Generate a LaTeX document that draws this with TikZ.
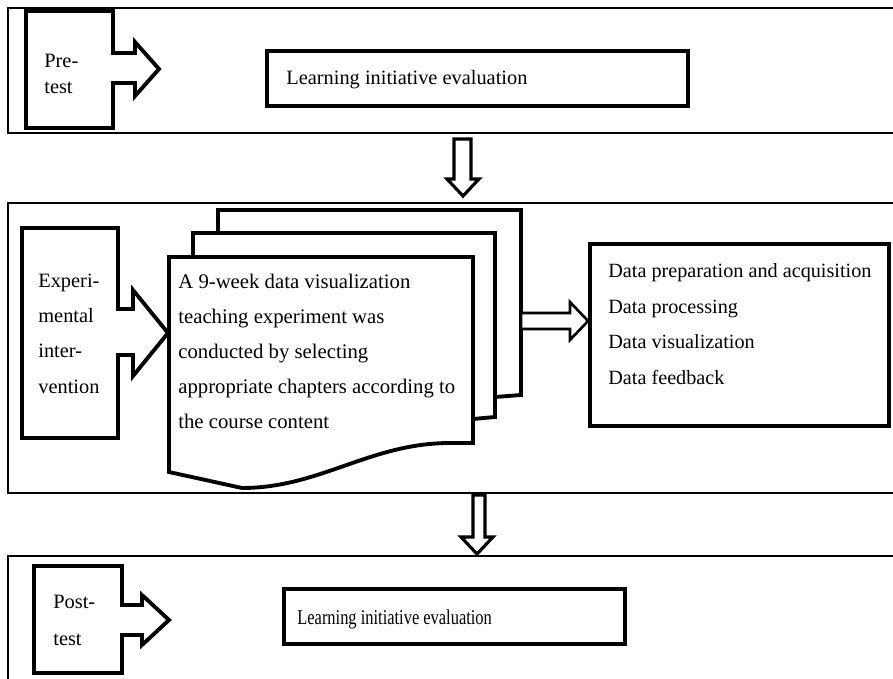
\documentclass[tikz,border=0pt]{standalone}
\usepackage{fontspec}
\setmainfont{Liberation Serif}
\usetikzlibrary{positioning}
\tikzset{
  panel/.style={draw, line width=1pt},
  callout/.style={draw, line width=2.2pt, line join=miter},
  docpage/.style={draw, line width=2.2pt, fill=white, line join=miter},
  evalbox/.style={rectangle, draw, line width=2.4pt, minimum height=1.1cm, inner sep=0pt},
  stepbox/.style={rectangle, draw, line width=1.9pt, inner sep=0pt},
  bigarrow/.style={draw, line width=1.8pt, fill=white, line join=miter},
  caption/.style={font=\fontsize{11.6}{20}\selectfont, align=left, inner sep=0pt, anchor=base west},
}

\begin{document}
\begin{tikzpicture}[x=0.02cm, y=-0.02cm]
\useasboundingbox (0,0) rectangle (893,679);

% three stages
\draw[panel] (8,8) rectangle (900,133);
\draw[panel] (8,203) rectangle (900,493);
\draw[panel] (8,556) rectangle (900,690);

% Pre-test
\draw[callout] (26,11) -- (113,11) -- (113,53) -- (135,53) -- (135,42) -- (159,69)
  -- (135,96) -- (135,83) -- (113,83) -- (113,128) -- (26,128) -- cycle;
\node[caption, font=\fontsize{11.6}{15.3}\selectfont] (pre) at (44,94) {Pre-\\test};
\node[evalbox, minimum width=8.42cm] (eval1) at (477.5,78.5) {};
\node[caption] (eval1txt) at (286,85) {Learning initiative evaluation};

\draw[bigarrow] (454,139) -- (471,139) -- (471,179) -- (479,179) -- (463,196)
  -- (447,179) -- (454,179) -- cycle;

% Experimental intervention
\draw[callout] (22,228) -- (118,228) -- (118,309) -- (133,309) -- (133,290) -- (168,333)
  -- (133,376) -- (133,355) -- (118,355) -- (118,438) -- (22,438) -- cycle;
\node[caption, font=\fontsize{11.6}{20.1}\selectfont] (exp) at (38,393) {Experi-\\mental\\inter-\\vention};

\draw[docpage] (218,210) -- (521,210) -- (521,395) -- (495,397) -- (218,397) -- cycle;
\draw[docpage] (193,233) -- (495,233) -- (495,417) -- (473,419) -- (193,419) -- cycle;
\draw[docpage] (169,257) -- (473,257) -- (473,443) -- (450,443)
  .. controls (370,443) and (320,488) .. (242,488) -- (169,472) -- cycle;
\node[caption, font=\fontsize{11.8}{19.8}\selectfont] (course) at (178,428)
  {A 9-week data visualization\\teaching experiment was\\conducted by selecting\\appropriate chapters according to\\the course content};

\node[stepbox, minimum width=5.98cm, minimum height=3.64cm] (steps) at (739.5,335) {};
\node[caption, font=\fontsize{11.5}{20.2}\selectfont] (stepstxt) at (608,384)
  {Data preparation and acquisition\\Data processing\\Data visualization\\Data feedback};
\draw[bigarrow, line width=1.5pt] (521,313) -- (570,313) -- (570,302) -- (588,321)
  -- (570,340) -- (570,329) -- (521,329) -- cycle;

\draw[bigarrow] (473,495) -- (485,495) -- (485,537) -- (493,537) -- (477,554)
  -- (461,537) -- (473,537) -- cycle;

% Post-test
\draw[callout] (34,566) -- (122,566) -- (122,605) -- (142,605) -- (142,595) -- (169,620)
  -- (142,645) -- (142,635) -- (122,635) -- (122,673) -- (34,673) -- cycle;
\node[caption, font=\fontsize{11.6}{21}\selectfont] (post) at (53,645) {Post-\\test};
\node[evalbox, minimum width=6.82cm] (eval2) at (454.5,616.5) {};
\node[caption, font=\fontsize{12}{14}\selectfont] (eval2txt) at (297,624) {\scalebox{0.78}[1]{Learning initiative evaluation}};

\end{tikzpicture}
\end{document}
